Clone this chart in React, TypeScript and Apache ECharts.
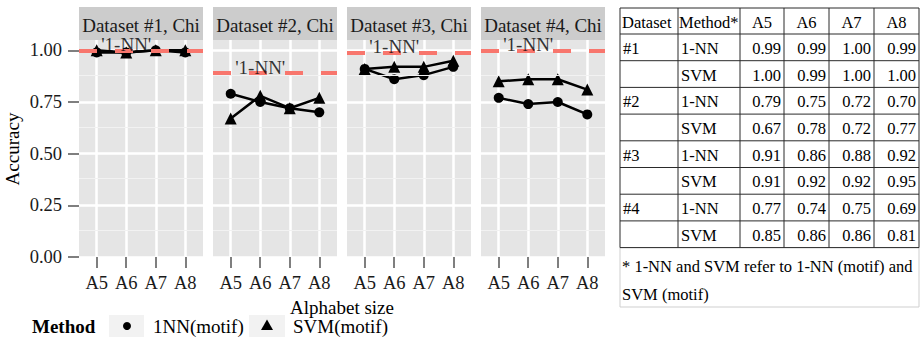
import React, { useEffect, useRef } from 'react';
import * as echarts from 'echarts';

const categories = ['A5', 'A6', 'A7', 'A8'];
const panelTitles = ['Dataset #1, Chi', 'Dataset #2, Chi', 'Dataset #3, Chi', 'Dataset #4, Chi'];
const datasetIds = ['#1', '#2', '#3', '#4'];
const nnMotif1 = [0.99, 0.99, 1.0, 0.99];
const svmMotif1 = [1.0, 0.99, 1.0, 1.0];
const nnMotif2 = [0.79, 0.75, 0.72, 0.7];
const svmMotif2 = [0.67, 0.78, 0.72, 0.77];
const nnMotif3 = [0.91, 0.86, 0.88, 0.92];
const svmMotif3 = [0.91, 0.92, 0.92, 0.95];
const nnMotif4 = [0.77, 0.74, 0.75, 0.69];
const svmMotif4 = [0.85, 0.86, 0.86, 0.81];
const baseline1NN = [1.0, 0.89, 0.99, 1.0];
const yTicks = [0, 0.25, 0.5, 0.75, 1.0];
const yMinorTicks = [0.125, 0.375, 0.625, 0.875];
const tableMethods = ['1-NN', 'SVM'];
const noteLines = ['* 1-NN and SVM refer to 1-NN (motif) and', 'SVM (motif)'];

const nnSeries = [nnMotif1, nnMotif2, nnMotif3, nnMotif4];
const svmSeries = [svmMotif1, svmMotif2, svmMotif3, svmMotif4];

const SERIF = '"Liberation Serif", "Times New Roman", serif';
const PANEL_LEFT = [79, 213, 347, 481];
const PANEL_W = 124;
const PANEL_TOP = 40;
const PANEL_H = 217;

function buildOption() {
  const grids: any[] = [];
  const xAxes: any[] = [];
  const yAxes: any[] = [];
  const series: any[] = [];
  const graphics: any[] = [];
  const xPos = categories.map((_, i) => i + 1);

  for (let p = 0; p < 4; p++) {
    grids.push({
      left: PANEL_LEFT[p], top: PANEL_TOP, width: PANEL_W, height: PANEL_H,
      show: true, backgroundColor: '#e5e5e5', borderWidth: 0,
    });
    xAxes.push({
      type: 'value', gridIndex: p, min: 0.4, max: 4.6,
      axisLine: { show: false },
      axisTick: { show: true, customValues: xPos, length: 11, lineStyle: { color: '#7f7f7f', width: 2 } },
      axisLabel: {
        show: true, customValues: xPos, margin: 16,
        formatter: (v: number) => categories[Math.round(v) - 1] ?? '',
        fontFamily: SERIF, fontSize: 18.5, color: '#1a1a1a',
      },
      splitLine: { show: true, lineStyle: { color: '#ffffff', width: 2.5 } },
    });
    yAxes.push({
      type: 'value', gridIndex: p, min: 0, max: 1.05,
      axisLine: { show: false },
      axisTick: { show: p === 0, customValues: yTicks, length: 11, lineStyle: { color: '#7f7f7f', width: 2 } },
      axisLabel: {
        show: p === 0, customValues: yTicks, margin: 17,
        formatter: (v: number) => v.toFixed(2),
        fontFamily: SERIF, fontSize: 18.5, color: '#1a1a1a',
      },
      splitLine: { show: true, lineStyle: { color: '#ffffff', width: 2.5 } },
    });

    // minor grid lines
    series.push({
      type: 'line', xAxisIndex: p, yAxisIndex: p, data: [], silent: true, z: 1,
      markLine: {
        silent: true, symbol: 'none', label: { show: false },
        lineStyle: { color: '#f2f2f2', width: 1.2, type: 'solid' },
        data: yMinorTicks.map((v) => ({ yAxis: v })),
      },
    });

    series.push({
      name: '1NN(motif)', type: 'line', xAxisIndex: p, yAxisIndex: p, z: 3,
      data: nnSeries[p].map((v, i) => [xPos[i], v]),
      symbol: 'circle', symbolSize: 10,
      lineStyle: { color: '#000', width: 2.5 }, itemStyle: { color: '#000' },
    });
    series.push({
      name: 'SVM(motif)', type: 'line', xAxisIndex: p, yAxisIndex: p, z: 3,
      data: svmSeries[p].map((v, i) => [xPos[i], v]),
      symbol: 'triangle', symbolSize: 12,
      lineStyle: { color: '#000', width: 2.5 }, itemStyle: { color: '#000' },
    });
    // baseline dashed line
    series.push({
      type: 'line', xAxisIndex: p, yAxisIndex: p, data: [], silent: true, z: 4,
      markLine: {
        silent: true, symbol: 'none', label: { show: false },
        lineStyle: { color: '#F8766D', width: 4, type: [18, 18] },
        data: [{ yAxis: baseline1NN[p] }],
      },
    });
    // baseline label
    series.push({
      type: 'scatter', xAxisIndex: p, yAxisIndex: p, z: 5, silent: true,
      data: [[2, baseline1NN[p]]], symbolSize: 1, itemStyle: { color: 'rgba(0,0,0,0)' },
      label: {
        show: true, position: 'inside', offset: [0, -6], formatter: "'1-NN'",
        fontFamily: SERIF, fontSize: 19, color: '#000',
      },
    });

    // strip
    graphics.push({ type: 'rect', shape: { x: PANEL_LEFT[p], y: 7, width: PANEL_W, height: 33 }, style: { fill: '#cccccc' } });
    graphics.push({
      type: 'text', x: PANEL_LEFT[p] + PANEL_W / 2, y: 25,
      style: { text: panelTitles[p], align: 'center', verticalAlign: 'middle', font: `19px ${SERIF}`, fill: '#1a1a1a' },
    });
  }

  // axis titles
  graphics.push({
    type: 'text', x: 12, y: 149, rotation: Math.PI / 2,
    style: { text: 'Accuracy', align: 'center', verticalAlign: 'middle', font: `19px ${SERIF}`, fill: '#000' },
  });
  graphics.push({
    type: 'text', x: (PANEL_LEFT[0] + PANEL_LEFT[3] + PANEL_W) / 2, y: 307,
    style: { text: 'Alphabet size', align: 'center', verticalAlign: 'middle', font: `19px ${SERIF}`, fill: '#000' },
  });

  // legend
  const ly = 326;
  graphics.push({ type: 'text', x: 32, y: ly, style: { text: 'Method', verticalAlign: 'middle', font: `bold 19px ${SERIF}`, fill: '#000' } });
  graphics.push({ type: 'rect', shape: { x: 109, y: 315, width: 35, height: 22 }, style: { fill: '#f2f2f2' } });
  graphics.push({ type: 'circle', shape: { cx: 127, cy: ly, r: 4 }, style: { fill: '#000' } });
  graphics.push({ type: 'text', x: 153, y: ly, style: { text: '1NN(motif)', verticalAlign: 'middle', font: `19px ${SERIF}`, fill: '#000' } });
  graphics.push({ type: 'rect', shape: { x: 249, y: 315, width: 36, height: 22 }, style: { fill: '#f2f2f2' } });
  graphics.push({ type: 'polygon', shape: { points: [[261, 330], [273, 330], [267, 319.5]] }, style: { fill: '#000' } });
  graphics.push({ type: 'text', x: 293, y: ly, style: { text: 'SVM(motif)', verticalAlign: 'middle', font: `19px ${SERIF}`, fill: '#000' } });

  // table
  const colX = [620, 678, 740, 784, 829, 874, 919];
  const headTop = 8;
  const headBottom = 34;
  const rowH = 26.7;
  const nRows = 8;
  const tableBottom = headBottom + rowH * nRows;
  const tfont = `16.5px ${SERIF}`;
  const lineStyle = { stroke: '#2a2a2a', lineWidth: 1 };

  graphics.push({ type: 'rect', shape: { x: colX[0], y: tableBottom, width: colX[6] - colX[0], height: 307 - tableBottom }, style: { fill: 'none', stroke: '#cfcfcf', lineWidth: 1 } });
  colX.forEach((x) => graphics.push({ type: 'line', shape: { x1: x, y1: headTop, x2: x, y2: tableBottom }, style: lineStyle }));
  const hLines = [headTop, headBottom];
  for (let r = 1; r <= nRows; r++) hLines.push(headBottom + rowH * r);
  hLines.forEach((y) => graphics.push({ type: 'line', shape: { x1: colX[0], y1: y, x2: colX[6], y2: y }, style: lineStyle }));

  const headY = (headTop + headBottom) / 2 + 1;
  graphics.push({ type: 'text', x: colX[0] + 2, y: headY, style: { text: 'Dataset', verticalAlign: 'middle', font: tfont, fill: '#000' } });
  graphics.push({ type: 'text', x: colX[1] + 1, y: headY, style: { text: 'Method*', verticalAlign: 'middle', font: tfont, fill: '#000' } });
  categories.forEach((c, i) => graphics.push({
    type: 'text', x: (colX[i + 2] + colX[i + 3]) / 2, y: headY,
    style: { text: c, align: 'center', verticalAlign: 'middle', font: tfont, fill: '#000' },
  }));

  for (let d = 0; d < 4; d++) {
    for (let m = 0; m < 2; m++) {
      const r = d * 2 + m;
      const cy = headBottom + rowH * r + rowH / 2 + 1;
      if (m === 0) {
        graphics.push({ type: 'text', x: colX[0] + 3, y: cy, style: { text: datasetIds[d], verticalAlign: 'middle', font: tfont, fill: '#000' } });
      }
      graphics.push({ type: 'text', x: colX[1] + 3, y: cy, style: { text: tableMethods[m], verticalAlign: 'middle', font: tfont, fill: '#000' } });
      const vals = m === 0 ? nnSeries[d] : svmSeries[d];
      vals.forEach((v, i) => graphics.push({
        type: 'text', x: colX[i + 3] - 3, y: cy,
        style: { text: v.toFixed(2), align: 'right', verticalAlign: 'middle', font: tfont, fill: '#000' },
      }));
    }
  }
  graphics.push({ type: 'text', x: colX[0] + 2, y: 266, style: { text: noteLines[0], verticalAlign: 'middle', font: tfont, fill: '#000' } });
  graphics.push({ type: 'text', x: colX[0] + 2, y: 294, style: { text: noteLines[1], verticalAlign: 'middle', font: tfont, fill: '#000' } });

  return {
    animation: false,
    backgroundColor: '#ffffff',
    grid: grids,
    xAxis: xAxes,
    yAxis: yAxes,
    series,
    graphic: graphics,
  };
}

export default function App() {
  const ref = useRef<HTMLDivElement>(null);
  useEffect(() => {
    if (!ref.current) return;
    const chart = echarts.init(ref.current, undefined, { renderer: 'svg' });
    chart.setOption(buildOption() as any);
    return () => chart.dispose();
  }, []);
  return <div ref={ref} style={{ position: 'absolute', left: 0, top: 0, width: 922, height: 338 }} />;
}
